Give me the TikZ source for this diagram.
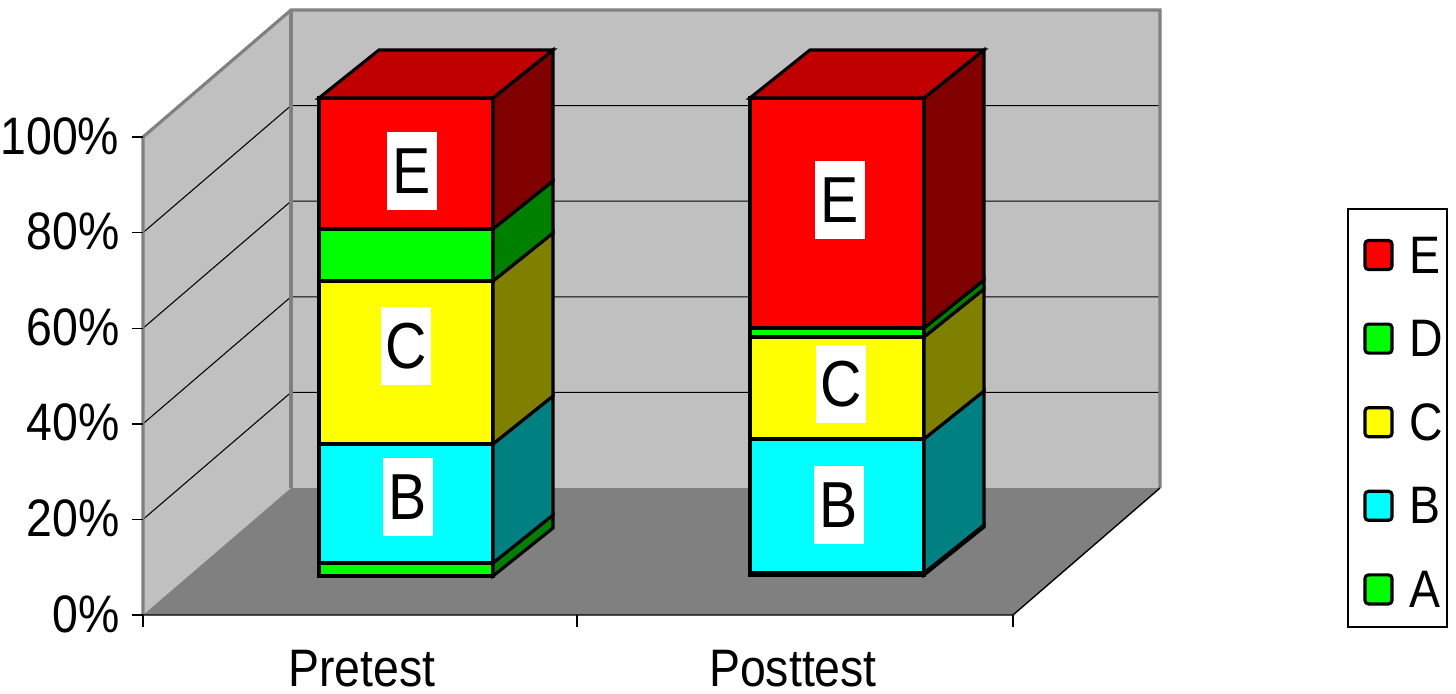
\documentclass[tikz,border=0pt]{standalone}
\usepackage{fontspec}
\setmainfont[FakeStretch=0.88]{Liberation Sans}
\usetikzlibrary{positioning}
\definecolor{wallgray}{HTML}{C0C0C0}
\definecolor{floorgray}{HTML}{808080}
\definecolor{edgegray}{HTML}{808080}
\definecolor{segE}{HTML}{FF0000}
\definecolor{segEside}{HTML}{800000}
\definecolor{segEtop}{HTML}{C00000}
\definecolor{segD}{HTML}{00FF00}
\definecolor{segDside}{HTML}{008000}
\definecolor{segC}{HTML}{FFFF00}
\definecolor{segCside}{HTML}{808000}
\definecolor{segB}{HTML}{00FFFF}
\definecolor{segBside}{HTML}{008080}
\tikzset{
  barline/.style={draw=black, line width=0.9pt},
  walledge/.style={draw=edgegray, line width=0.9pt},
  gridline/.style={draw=black, line width=0.3pt},
  ticks/.style={draw=black, line width=0.4pt},
  axislbl/.style={font=\fontsize{15}{18}\selectfont, inner sep=0pt},
  seglbl/.style={fill=white, font=\fontsize{18.5}{22}\selectfont, minimum width=0.49cm, minimum height=0.77cm, inner sep=0pt},
  legsq/.style={draw=black, line width=0.9pt, rounded corners=1pt, minimum width=0.27cm, minimum height=0.29cm, inner sep=0pt}
}
\newcommand{\barseg}[5]{%
  \filldraw[barline, fill=#4] (#1,#2) rectangle ({#1+174},#3);
  \filldraw[barline, fill=#5] ({#1+174},#2) -- ++(60,-48) -- ({#1+234},{#3-48}) -- ({#1+174},#3) -- cycle;
}
\newcommand{\bartop}[3]{%
  \filldraw[barline, fill=#3] (#1,#2) -- ({#1+174},#2) -- ++(60,-48) -- ({#1+60},{#2-48}) -- cycle;
}

\begin{document}
\begin{tikzpicture}[x=0.01cm, y=-0.01cm]
  \useasboundingbox (0,0) rectangle (1456,693);
  \fill[wallgray] (291,10) rectangle (1160,488);
  \fill[wallgray] (143,137) -- (291,10) -- (291,488) -- (143,615) -- cycle;
  \fill[floorgray] (143,615) -- (1013,615) -- (1160,488) -- (291,488) -- cycle;
  \foreach \k in {1,...,4} {
    \draw[gridline] (143,{615-95.6*\k}) -- (291,{488-95.6*\k}) -- (1160,{488-95.6*\k});
  }
  \draw[walledge] (143,615) -- (143,137) -- (291,10) -- (1160,10) -- (1160,488);
  \draw[walledge] (291,10) -- (291,488);
  \draw[ticks] (143,615) -- (1013,615) -- (1160,488);
  \foreach \t in {143,577,1013} {
    \draw[ticks] (\t,615) -- (\t,627);
  }
  \foreach \k/\pct in {0/0,1/20,2/40,3/60,4/80,5/100} {
    \draw[ticks] (132,{615-95.6*\k}) -- (143,{615-95.6*\k});
    \node (ylbl\k) [axislbl, anchor=base east] at (120,{632-95.6*\k}) {\pct\%};
  }

  \barseg{319}{576}{563}{segD}{segDside}
  \barseg{319}{563}{444}{segB}{segBside}
  \barseg{319}{444}{281}{segC}{segCside}
  \barseg{319}{281}{229}{segD}{segDside}
  \barseg{319}{229}{98}{segE}{segEside}
  \bartop{319}{98}{segEtop}

  \barseg{750}{575}{573}{segD}{segDside}
  \barseg{750}{573}{439}{segB}{segBside}
  \barseg{750}{439}{337}{segC}{segCside}
  \barseg{750}{337}{328}{segD}{segDside}
  \barseg{750}{328}{98}{segE}{segEside}
  \bartop{750}{98}{segEtop}

  \node (preE) [seglbl] at (412,171) {E};
  \node (preC) [seglbl] at (406,346) {C};
  \node (preB) [seglbl] at (408,497) {B};
  \node (postE) [seglbl] at (840,200) {E};
  \node (postC) [seglbl] at (841,384) {C};
  \node (postB) [seglbl] at (839,505) {B};

  \node (pre) [axislbl, anchor=base] at (362,686) {Pretest};
  \node (post) [axislbl, anchor=base] at (793,686) {Posttest};

  \draw[line width=0.4pt, fill=white] (1348,209) rectangle (1447,627);
  \foreach \k/\s/\c in {0/E/segE,1/D/segD,2/C/segC,3/B/segB,4/A/segD} {
    \node (sq\s) [legsq, fill=\c] at (1378.5,{255+83.6*\k}) {};
    \node (leg\s) [axislbl, right=0.15cm of sq\s] {\s};
  }
\end{tikzpicture}
\end{document}
